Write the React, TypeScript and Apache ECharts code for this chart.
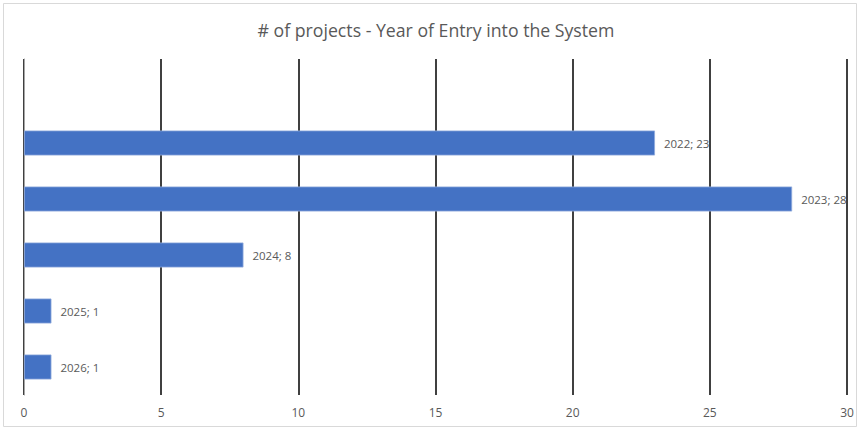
import React, { useEffect, useRef } from "react";
import * as echarts from "echarts";

const categories = ["2026", "2025", "2024", "2023", "2022", ""];
const values: (number | null)[] = [1, 1, 8, 28, 23, null];
const xTicks = [0, 5, 10, 15, 20, 25, 30];
const titleText = "# of projects - Year of Entry into the System";

export default function App() {
  const ref = useRef<HTMLDivElement>(null);
  useEffect(() => {
    if (!ref.current) return;
    const chart = echarts.init(ref.current, undefined, { renderer: "svg" });
    chart.setOption({
      animation: false,
      backgroundColor: "#ffffff",
      title: {
        text: titleText,
        left: 436,
        textAlign: "center",
        top: 21,
        padding: 0,
        textStyle: {
          fontFamily: "Open Sans",
          fontSize: 17.7,
          fontWeight: "normal",
          color: "#595959",
        },
      },
      graphic: [
        {
          type: "rect",
          shape: { x: 3.5, y: 3.5, width: 853, height: 423 },
          style: { fill: "none", stroke: "#d9d9d9", lineWidth: 1 },
          silent: true,
        },
      ],
      grid: { left: 24, right: 13, top: 59, bottom: 35, containLabel: false },
      xAxis: {
        type: "value",
        min: xTicks[0],
        max: xTicks[xTicks.length - 1],
        interval: 5,
        axisLine: { show: false },
        axisTick: { show: false },
        axisLabel: {
          color: "#595959",
          fontFamily: "Open Sans",
          fontSize: 12,
          margin: 11,
        },
        splitLine: { show: true, lineStyle: { color: "#000000", width: 1.5 } },
      },
      yAxis: {
        type: "category",
        data: categories,
        axisLine: { show: true, lineStyle: { color: "#a6a6a6", width: 1 } },
        axisTick: { show: false },
        axisLabel: { show: false },
        splitLine: { show: false },
      },
      series: [
        {
          type: "bar",
          data: values,
          barWidth: 25,
          itemStyle: {
            color: "#4472C4",
            borderColor: "#8faadc",
            borderWidth: 0.8,
          },
          label: {
            show: true,
            position: "right",
            distance: 9,
            color: "#595959",
            fontFamily: "Open Sans",
            fontSize: 11.5,
            formatter: (p: any) => `${p.name}; ${p.value}`,
          },
        },
      ],
    });
    return () => chart.dispose();
  }, []);
  return (
    <div
      ref={ref}
      style={{ position: "fixed", left: 0, top: 0, width: 860, height: 430 }}
    />
  );
}
